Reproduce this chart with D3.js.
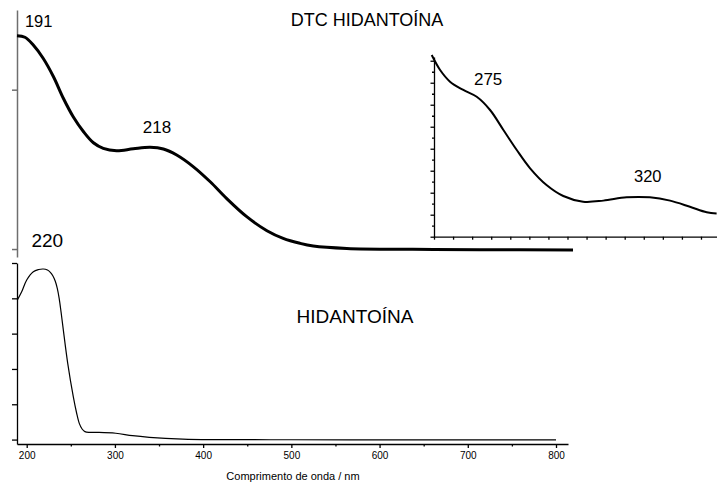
<!DOCTYPE html>
<html>
<head>
<meta charset="utf-8">
<script src="https://cdn.jsdelivr.net/npm/d3@7"></script>
<style>
  body { margin: 0; background: #fff; }
  svg { display: block; }
  text { font-family: "Liberation Sans", Arial, sans-serif; fill: #000; }
</style>
</head>
<body>
<svg id="chart" width="717" height="486"></svg>
<script>
// DTC hidantoína, main spectrum (wavelength / nm, absorbance)
const dtcWavelength = [190, 191.6, 193.3, 195.3, 197.4, 199.4, 201.4, 203.5, 205.5, 207.5, 210.2, 213.6, 217.0, 219.7, 222.4, 225.8, 229.2, 232.5, 236.6, 240.7, 244.0, 247.4, 250.1, 256.9, 270.3, 283.9, 302.8];
const dtcAbsorbance = [1.339, 1.329, 1.280, 1.197, 1.081, 0.946, 0.830, 0.736, 0.667, 0.632, 0.617, 0.629, 0.638, 0.628, 0.590, 0.516, 0.422, 0.318, 0.203, 0.115, 0.067, 0.036, 0.019, 0.004, -0.002, -0.004, -0.006];

// DTC hidantoína, enlarged long-wavelength region
const insetWavelength = [264.4, 266.6, 269.2, 272.7, 276.2, 279.7, 283.2, 286.7, 290.2, 294.5, 298.9, 304.1, 309.4, 315.5, 321.6, 326.9, 332.1, 336.5, 339.1];
const insetAbsorbance = [0.826, 0.758, 0.705, 0.667, 0.636, 0.576, 0.485, 0.394, 0.311, 0.235, 0.185, 0.159, 0.164, 0.179, 0.179, 0.164, 0.136, 0.111, 0.106];

// Hidantoína spectrum
const hidWavelength = [189.3, 194.3, 200, 207.5, 213.5, 218.8, 223.5, 226.8, 229.6, 232.3, 234.6, 236.8, 239, 241.5, 246.5, 252.8, 256.5, 259.6, 262.8, 266, 271.8, 282, 301, 320, 339, 377, 414, 500, 600, 700, 800];
const hidAbsorbance = [0.79, 0.837, 0.904, 0.951, 0.963, 0.966, 0.960, 0.947, 0.928, 0.898, 0.858, 0.800, 0.720, 0.621, 0.432, 0.243, 0.152, 0.092, 0.060, 0.045, 0.041, 0.041, 0.036, 0.022, 0.013, 0.003, 0.0, -0.001, -0.002, -0.002, -0.002];

// Peak labels
const dtcPeaks = [191, 218];
const insetPeaks = [275, 320];
const hidPeaks = [220];

// Axis ticks
const xTickValues = [200, 300, 400, 500, 600, 700, 800];
const xMinorTickValues = [250, 350, 450, 550, 650, 750];
const hidYTicks = [0, 0.2, 0.4, 0.6, 0.8, 1.0];
const dtcYTicks = [0, 1];
const insetYMajor = [0, 0.1, 0.2, 0.3, 0.4, 0.5, 0.6, 0.7, 0.8];
const insetYMinor = [0.05, 0.15, 0.25, 0.35, 0.45, 0.55, 0.65, 0.75];
const insetXTicks = [265, 270, 275, 280, 285, 290, 295, 300, 305, 310, 315, 320, 325, 330, 335];

const titleTop = "DTC HIDANTOÍNA";
const titleBottom = "HIDANTOÍNA";
const xAxisTitle = "Comprimento de onda / nm";

const svg = d3.select("#chart");
const zip = (xs, ys) => xs.map((x, i) => [x, ys[i]]);

// ---------- Top panel: DTC hidantoína ----------
const xTop = d3.scaleLinear().domain([190, 303]).range([17, 574]);
const yTop = d3.scaleLinear().domain([-0.05, 1.5]).range([257, 10]);

const gTopAxis = svg.append("g").attr("transform", "translate(17,0)")
  .call(d3.axisLeft(yTop).tickValues(dtcYTicks).tickSize(5).tickSizeOuter(0).tickFormat(""));
gTopAxis.selectAll("path, line").attr("stroke", "#6e6e6e").attr("stroke-width", 1.5);

svg.append("path")
  .datum(zip(dtcWavelength, dtcAbsorbance))
  .attr("fill", "none").attr("stroke", "#000").attr("stroke-width", 3)
  .attr("stroke-linejoin", "round").attr("stroke-linecap", "butt")
  .attr("d", d3.line().x(d => xTop(d[0])).y(d => yTop(d[1])).curve(d3.curveCatmullRom.alpha(0.5)));

svg.append("text").attr("x", xTop(dtcPeaks[0]) + 3).attr("y", 27)
  .attr("font-size", 16.5).text(dtcPeaks[0]);
svg.append("text").attr("x", xTop(dtcPeaks[1]) + 2).attr("y", 133)
  .attr("text-anchor", "middle").attr("font-size", 17).text(dtcPeaks[1]);

svg.append("text").attr("x", 367).attr("y", 25.5)
  .attr("text-anchor", "middle").attr("font-size", 18).text(titleTop);

// ---------- Inset: enlarged region ----------
const xIn = d3.scaleLinear().domain([265, 339.2]).range([434, 717]);
const yIn = d3.scaleLinear().domain([0, 0.817]).range([236.7, 57]);

const gInX = svg.append("g").attr("transform", "translate(0,236.7)")
  .call(d3.axisBottom(xIn).tickValues(insetXTicks).tickSize(3).tickSizeOuter(0).tickFormat(""));
const gInYMinor = svg.append("g").attr("transform", "translate(434,0)")
  .call(d3.axisLeft(yIn).tickValues(insetYMinor).tickSize(2).tickSizeOuter(0).tickFormat(""));
gInYMinor.select(".domain").remove();
const gInY = svg.append("g").attr("transform", "translate(434,0)")
  .call(d3.axisLeft(yIn).tickValues(insetYMajor).tickSize(3.5).tickSizeOuter(0).tickFormat(""));
[gInX, gInY, gInYMinor].forEach(g => g.selectAll("path, line").attr("stroke", "#000").attr("stroke-width", 1.3));

svg.append("path")
  .datum(zip(insetWavelength, insetAbsorbance))
  .attr("fill", "none").attr("stroke", "#000").attr("stroke-width", 2)
  .attr("stroke-linejoin", "round")
  .attr("d", d3.line().x(d => xIn(d[0])).y(d => yIn(d[1])).curve(d3.curveCatmullRom.alpha(0.5)));

svg.append("text").attr("x", xIn(insetPeaks[0]) + 16).attr("y", 85)
  .attr("text-anchor", "middle").attr("font-size", 17).text(insetPeaks[0]);
svg.append("text").attr("x", xIn(insetPeaks[1]) + 4).attr("y", 181.5)
  .attr("text-anchor", "middle").attr("font-size", 16.5).text(insetPeaks[1]);

// ---------- Bottom panel: hidantoína ----------
const xBot = d3.scaleLinear().domain([189, 813.6]).range([17, 568]);
const yBot = d3.scaleLinear().domain([-0.025, 1.0]).range([444, 263]);

const gBotMinor = svg.append("g").attr("transform", "translate(0,444)")
  .call(d3.axisBottom(xBot).tickValues(xMinorTickValues).tickSize(2.5).tickSizeOuter(0).tickFormat(""));
gBotMinor.select(".domain").remove();
const gBotX = svg.append("g").attr("transform", "translate(0,444)")
  .call(d3.axisBottom(xBot).tickValues(xTickValues).tickSize(4).tickSizeOuter(0).tickPadding(4));
gBotX.selectAll("text").attr("font-size", 10).attr("font-family", "\"Liberation Sans\", Arial, sans-serif").attr("fill", "#000");
const gBotY = svg.append("g").attr("transform", "translate(17,0)")
  .call(d3.axisLeft(yBot).tickValues(hidYTicks).tickSize(5).tickSizeOuter(0).tickFormat(""));
[gBotX, gBotMinor, gBotY].forEach(g => g.selectAll("path, line").attr("stroke", "#000").attr("stroke-width", 1.3));

svg.append("path")
  .datum(zip(hidWavelength, hidAbsorbance))
  .attr("fill", "none").attr("stroke", "#000").attr("stroke-width", 1.2)
  .attr("stroke-linejoin", "round")
  .attr("d", d3.line().x(d => xBot(d[0])).y(d => yBot(d[1])).curve(d3.curveCatmullRom.alpha(0.5)));

svg.append("text").attr("x", xBot(hidPeaks[0]) + 3).attr("y", 247)
  .attr("text-anchor", "middle").attr("font-size", 19).text(hidPeaks[0]);

svg.append("text").attr("x", 355).attr("y", 322.5)
  .attr("text-anchor", "middle").attr("font-size", 19).text(titleBottom);

svg.append("text").attr("x", 293).attr("y", 480)
  .attr("text-anchor", "middle").attr("font-size", 11).text(xAxisTitle);
</script>
</body>
</html>
